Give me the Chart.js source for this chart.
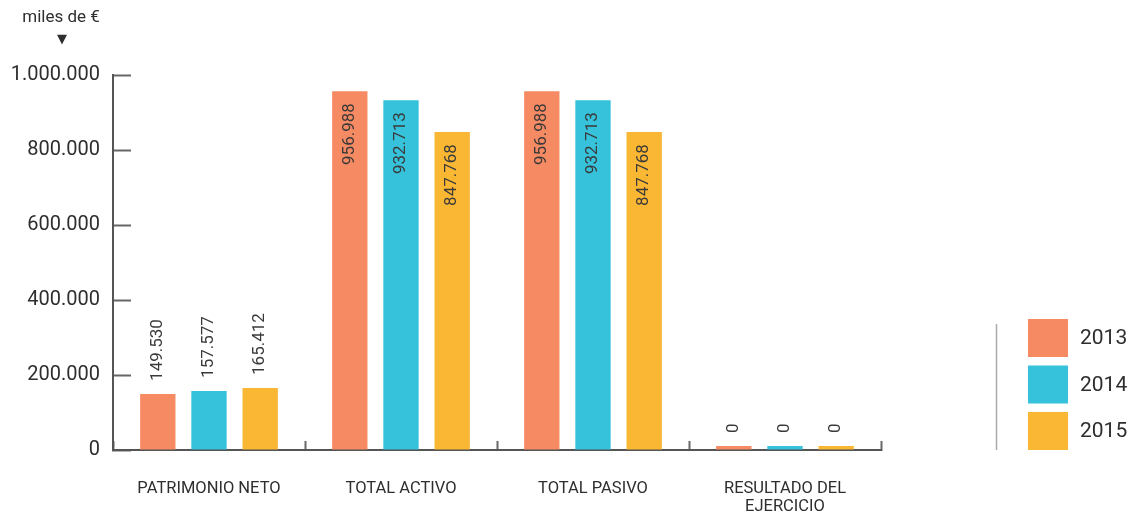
<!DOCTYPE html>
<html>
<head>
<meta charset="utf-8">
<script src="https://cdn.jsdelivr.net/npm/chart.js@4.4.1/dist/chart.umd.min.js"></script>
<style>
  html, body { margin: 0; padding: 0; background: #fff; }
</style>
</head>
<body>
<canvas id="myChart" width="1128" height="515"></canvas>
<script>
'use strict';

// categories on the x axis (last one wraps on two lines)
let categories = ['PATRIMONIO NETO', 'TOTAL ACTIVO', 'TOTAL PASIVO', ['RESULTADO DEL', 'EJERCICIO']];
let years = ['2013', '2014', '2015'];

// values in miles de €
let values2013 = [149530, 956988, 956988, 0];
let values2014 = [157577, 932713, 932713, 0];
let values2015 = [165412, 847768, 847768, 0];

let yearColors = ['#f68a62', '#35c2da', '#fab733'];
let yTicks = [0, 200000, 400000, 600000, 800000, 1000000];

let unitLabel = 'miles de €';

function formatNumber(n) {
  return String(n).replace(/\B(?=(\d{3})+(?!\d))/g, '.');
}

Chart.defaults.font.family = 'Roboto, "Open Sans", sans-serif';
Chart.defaults.color = '#2e2e2e';

// rotated value labels, inside the top of tall bars, above short ones
const valueLabels = {
  id: 'valueLabels',
  afterDatasetsDraw(chart) {
    const ctx = chart.ctx;
    ctx.save();
    ctx.font = '17px Roboto';
    ctx.fillStyle = '#3a3a3a';
    ctx.textBaseline = 'middle';
    chart.data.datasets.forEach((ds, i) => {
      chart.getDatasetMeta(i).data.forEach((bar, j) => {
        let text = formatNumber(ds.data[j]);
        let w = ctx.measureText(text).width;
        let h = bar.base - bar.y;
        ctx.save();
        ctx.translate(bar.x, bar.y);
        ctx.rotate(-Math.PI / 2);
        if (h > w + 30) {
          ctx.textAlign = 'right';
          ctx.fillText(text, -12, 0);
        } else {
          ctx.textAlign = 'left';
          ctx.fillText(text, 13, 0);
        }
        ctx.restore();
      });
    });
    ctx.restore();
  }
};

// unit caption above the y axis + legend on the right
const extras = {
  id: 'extras',
  afterDraw(chart) {
    const ctx = chart.ctx;
    const area = chart.chartArea;
    ctx.save();

    // miles de € ▼
    ctx.fillStyle = '#2e2e2e';
    ctx.textAlign = 'center';
    ctx.textBaseline = 'middle';
    ctx.font = '17px Roboto';
    ctx.fillText(unitLabel, 61, 18);
    ctx.font = '13px "DejaVu Sans"';
    ctx.fillText('▼', 62, 40);

    // legend
    let boxW = 40;
    let boxH = 38;
    let step = 46.5;
    let boxX = 1028;
    let n = chart.data.datasets.length;
    let firstTop = area.bottom - boxH - (n - 1) * step;

    ctx.strokeStyle = '#aaa';
    ctx.lineWidth = 1.5;
    ctx.beginPath();
    ctx.moveTo(996.5, firstTop + 5);
    ctx.lineTo(996.5, area.bottom);
    ctx.stroke();

    ctx.font = '21px Roboto';
    ctx.textAlign = 'left';
    chart.data.datasets.forEach((ds, i) => {
      let top = firstTop + i * step;
      ctx.fillStyle = ds.backgroundColor;
      ctx.fillRect(boxX, top, boxW, boxH);
      ctx.fillStyle = '#2e2e2e';
      ctx.fillText(ds.label, boxX + boxW + 12, top + boxH / 2 + 1);
    });
    ctx.restore();
  }
};

const data = {
  labels: categories,
  datasets: [
    { label: years[0], data: values2013, backgroundColor: yearColors[0] },
    { label: years[1], data: values2014, backgroundColor: yearColors[1] },
    { label: years[2], data: values2015, backgroundColor: yearColors[2] }
  ]
};

const config = {
  type: 'bar',
  data: data,
  options: {
    responsive: false,
    animation: false,
    barPercentage: 0.69,
    categoryPercentage: 0.8,
    minBarLength: 4,
    layout: {
      padding: { top: 75, right: 247, bottom: 0, left: 0 }
    },
    plugins: {
      legend: { display: false },
      tooltip: { enabled: false }
    },
    scales: {
      x: {
        afterFit(scale) { scale.height = 65; },
        border: { color: '#555', width: 2 },
        grid: {
          offset: true,
          drawOnChartArea: false,
          tickLength: -9,
          tickColor: '#666',
          tickWidth: 2
        },
        ticks: {
          padding: 39,
          font: { size: 16.5, lineHeight: 1.1 },
          maxRotation: 0,
          autoSkip: false
        }
      },
      y: {
        min: 0,
        max: 1000000,
        afterFit(scale) { scale.width = 113; },
        afterBuildTicks(scale) {
          scale.ticks = yTicks.map(v => ({ value: v }));
        },
        border: { color: '#555', width: 2 },
        grid: {
          drawOnChartArea: false,
          tickLength: -18,
          tickColor: '#666',
          tickWidth: 2
        },
        ticks: {
          padding: 31,
          font: { size: 20 },
          callback: (value) => formatNumber(value)
        }
      }
    }
  },
  plugins: [valueLabels, extras]
};

const myChart = new Chart(document.getElementById('myChart'), config);
</script>
</body>
</html>
